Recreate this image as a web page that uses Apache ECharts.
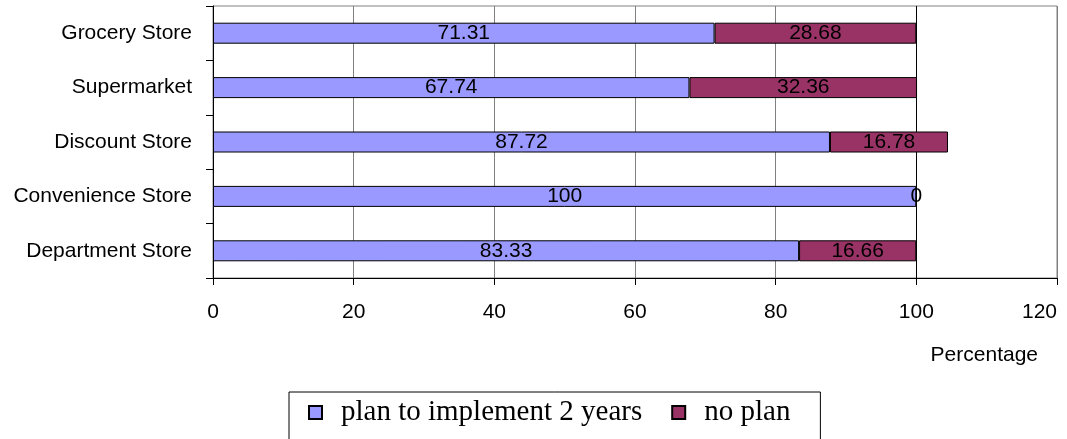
<!DOCTYPE html>
<html>
<head>
<meta charset="utf-8">
<script src="https://cdn.jsdelivr.net/npm/echarts@6/dist/echarts.min.js"></script>
<style>
	html, body { margin: 0; padding: 0; background: #fff; }
	#chart { width: 1067px; height: 439px; }
</style>
</head>
<body>
<div id="chart"></div>
<script>
const categories = ['Grocery Store', 'Supermarket', 'Discount Store', 'Convenience Store', 'Department Store']
const planValues = [71.31, 67.74, 87.72, 100, 83.33]
const noPlanValues = [28.68, 32.36, 16.78, 0, 16.66]
const seriesNames = ['plan to implement 2 years', 'no plan']

const chart = echarts.init(document.getElementById('chart'))

const sans = 'Liberation Sans, Arial, sans-serif'

const labelStyle = {
	show: true,
	position: 'inside',
	color: '#000',
	fontSize: 21,
	fontFamily: sans,
}

const option = {
	animation: false,
	grid: {
		left: 213,
		right: 10,
		top: 6,
		bottom: 161,
		outerBoundsMode: 'none',
		containLabel: false,
		show: true,
		borderColor: '#808080',
		borderWidth: 1,
	},
	legend: {
		data: seriesNames,
		left: 289,
		top: 392,
		icon: 'rect',
		itemWidth: 13,
		itemHeight: 13,
		itemGap: 29,
		padding: [6, 30, 30, 19],
		borderColor: '#000',
		borderWidth: 1,
		textStyle: {
			fontFamily: 'Liberation Serif, Times New Roman, serif',
			fontSize: 29,
			color: '#000',
			padding: [0, 0, 0, 14],
		},
	},
	xAxis: {
		type: 'value',
		min: 0,
		max: 120,
		interval: 20,
		name: 'Percentage',
		nameLocation: 'end',
		nameGap: -19,
		nameTextStyle: {
			align: 'right',
			verticalAlign: 'top',
			padding: [67, 0, 0, 0],
			fontSize: 21,
			color: '#000',
			fontFamily: sans,
		},
		axisLine: { show: true, lineStyle: { color: '#000', width: 1 } },
		axisTick: { show: true, length: 7, lineStyle: { color: '#000' } },
		axisLabel: {
			margin: 24,
			fontSize: 21,
			color: '#000',
			fontFamily: sans,
			alignMaxLabel: 'right',
		},
		splitLine: {
			show: true,
			lineStyle: {
				color: ['#808080', '#808080', '#808080', '#808080', '#808080', '#000', '#808080'],
				width: 1,
			},
		},
	},
	yAxis: {
		type: 'category',
		inverse: true,
		data: categories,
		axisLine: { show: true, lineStyle: { color: '#000', width: 1 } },
		axisTick: { show: true, length: 7, lineStyle: { color: '#000' } },
		axisLabel: {
			margin: 21,
			fontSize: 21,
			color: '#000',
			fontFamily: sans,
		},
		splitLine: { show: false },
	},
	series: [
		{
			name: seriesNames[0],
			type: 'bar',
			stack: 'total',
			barWidth: 21,
			data: planValues,
			itemStyle: { color: '#9999ff', borderColor: '#000', borderWidth: 1 },
			label: labelStyle,
		},
		{
			name: seriesNames[1],
			type: 'bar',
			stack: 'total',
			barWidth: 21,
			data: noPlanValues,
			itemStyle: { color: '#993366', borderColor: '#000', borderWidth: 1 },
			label: labelStyle,
		},
	],
}

chart.setOption(option)
</script>
</body>
</html>
